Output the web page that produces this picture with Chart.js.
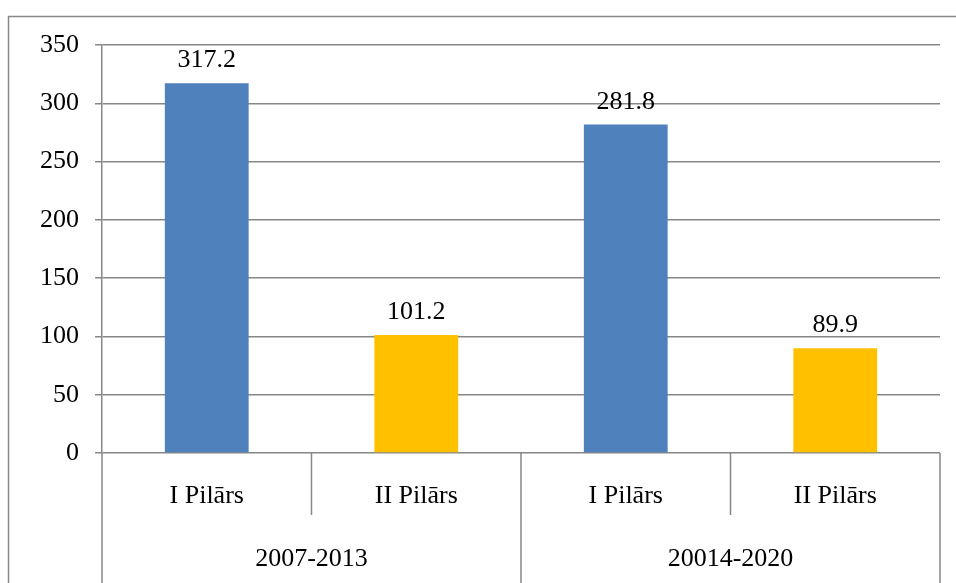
<!DOCTYPE html>
<html><head><meta charset="utf-8">
<script src="https://cdn.jsdelivr.net/npm/chart.js@4"></script>
<style>html,body{margin:0;padding:0;background:#fff}#wrap{width:956px;height:583px;position:relative}</style>
</head><body><div id="wrap"><canvas id="c" width="956" height="583"></canvas></div>
<script>
const categories = ['I Pilārs', 'II Pilārs', 'I Pilārs', 'II Pilārs'];
const periods = ['2007-2013', '20014-2020'];
const values = [317.2, 101.2, 281.8, 89.9];
const barColors = ['#4F81BD', '#FFC000', '#4F81BD', '#FFC000'];
const yTicks = [0, 50, 100, 150, 200, 250, 300, 350];

const FONT = '"Liberation Serif", "Times New Roman", serif';
const LINE = '#878787';

const decor = {
  id: 'decor',
  beforeDraw(chart) {
    const ctx = chart.ctx;
    ctx.save();
    ctx.fillStyle = '#fff';
    ctx.fillRect(0, 0, chart.width, chart.height);
    ctx.strokeStyle = LINE;
    ctx.lineWidth = 1.5;
    ctx.strokeRect(8.5, 16.5, chart.width + 20, chart.height + 20);
    ctx.restore();
  },
  afterDraw(chart) {
    const ctx = chart.ctx;
    const x = chart.scales.x;
    const a = chart.chartArea;
    const H = chart.height;
    ctx.save();
    ctx.strokeStyle = LINE;
    ctx.lineWidth = 1.5;
    const bound = i => (x.getPixelForValue(i) + x.getPixelForValue(i + 1)) / 2;
    const vline = (px, y1, y2) => { ctx.beginPath(); ctx.moveTo(px, y1); ctx.lineTo(px, y2); ctx.stroke(); };
    // outer level lines
    vline(a.left, a.bottom, H);
    vline(bound(1), a.bottom, H);
    vline(a.right, a.bottom, H);
    // inner separators
    vline(bound(0), a.bottom, a.bottom + 62);
    vline(bound(2), a.bottom, a.bottom + 62);
    // inner labels
    ctx.fillStyle = '#000';
    ctx.font = '26px ' + FONT;
    ctx.textAlign = 'center';
    ctx.textBaseline = 'alphabetic';
    categories.forEach((c, i) => ctx.fillText(c, x.getPixelForValue(i), a.bottom + 50));
    periods.forEach((p, g) => {
      const l = g === 0 ? a.left : bound(1);
      const r = g === 0 ? bound(1) : a.right;
      ctx.fillText(p, (l + r) / 2, a.bottom + 113);
    });
    // data labels
    const meta = chart.getDatasetMeta(0);
    meta.data.forEach((bar, i) => {
      ctx.fillText(values[i].toFixed(1), bar.x, bar.y - 16);
    });
    ctx.restore();
  }
};

new Chart(document.getElementById('c'), {
  type: 'bar',
  data: {
    labels: categories,
    datasets: [{
      data: values,
      backgroundColor: barColors,
      borderWidth: 0,
      barPercentage: 0.4,
      categoryPercentage: 1.0
    }]
  },
  options: {
    responsive: false,
    animation: false,
    layout: { padding: { left: 0, right: 16, top: 45, bottom: 130 } },
    plugins: { legend: { display: false }, tooltip: { enabled: false } },
    scales: {
      x: { display: false, offset: true },
      y: {
        min: 0, max: 350,
        afterFit(s) { s.width = 102; },
        afterBuildTicks(s) { s.ticks = yTicks.map(v => ({ value: v })); },
        grid: { color: LINE, lineWidth: 1.5, tickLength: 7, drawTicks: true },
        border: { display: true, color: LINE, width: 1.5 },
        ticks: { color: '#000', font: { family: FONT, size: 26 }, padding: 16 }
      }
    }
  },
  plugins: [decor]
});
</script></body></html>
